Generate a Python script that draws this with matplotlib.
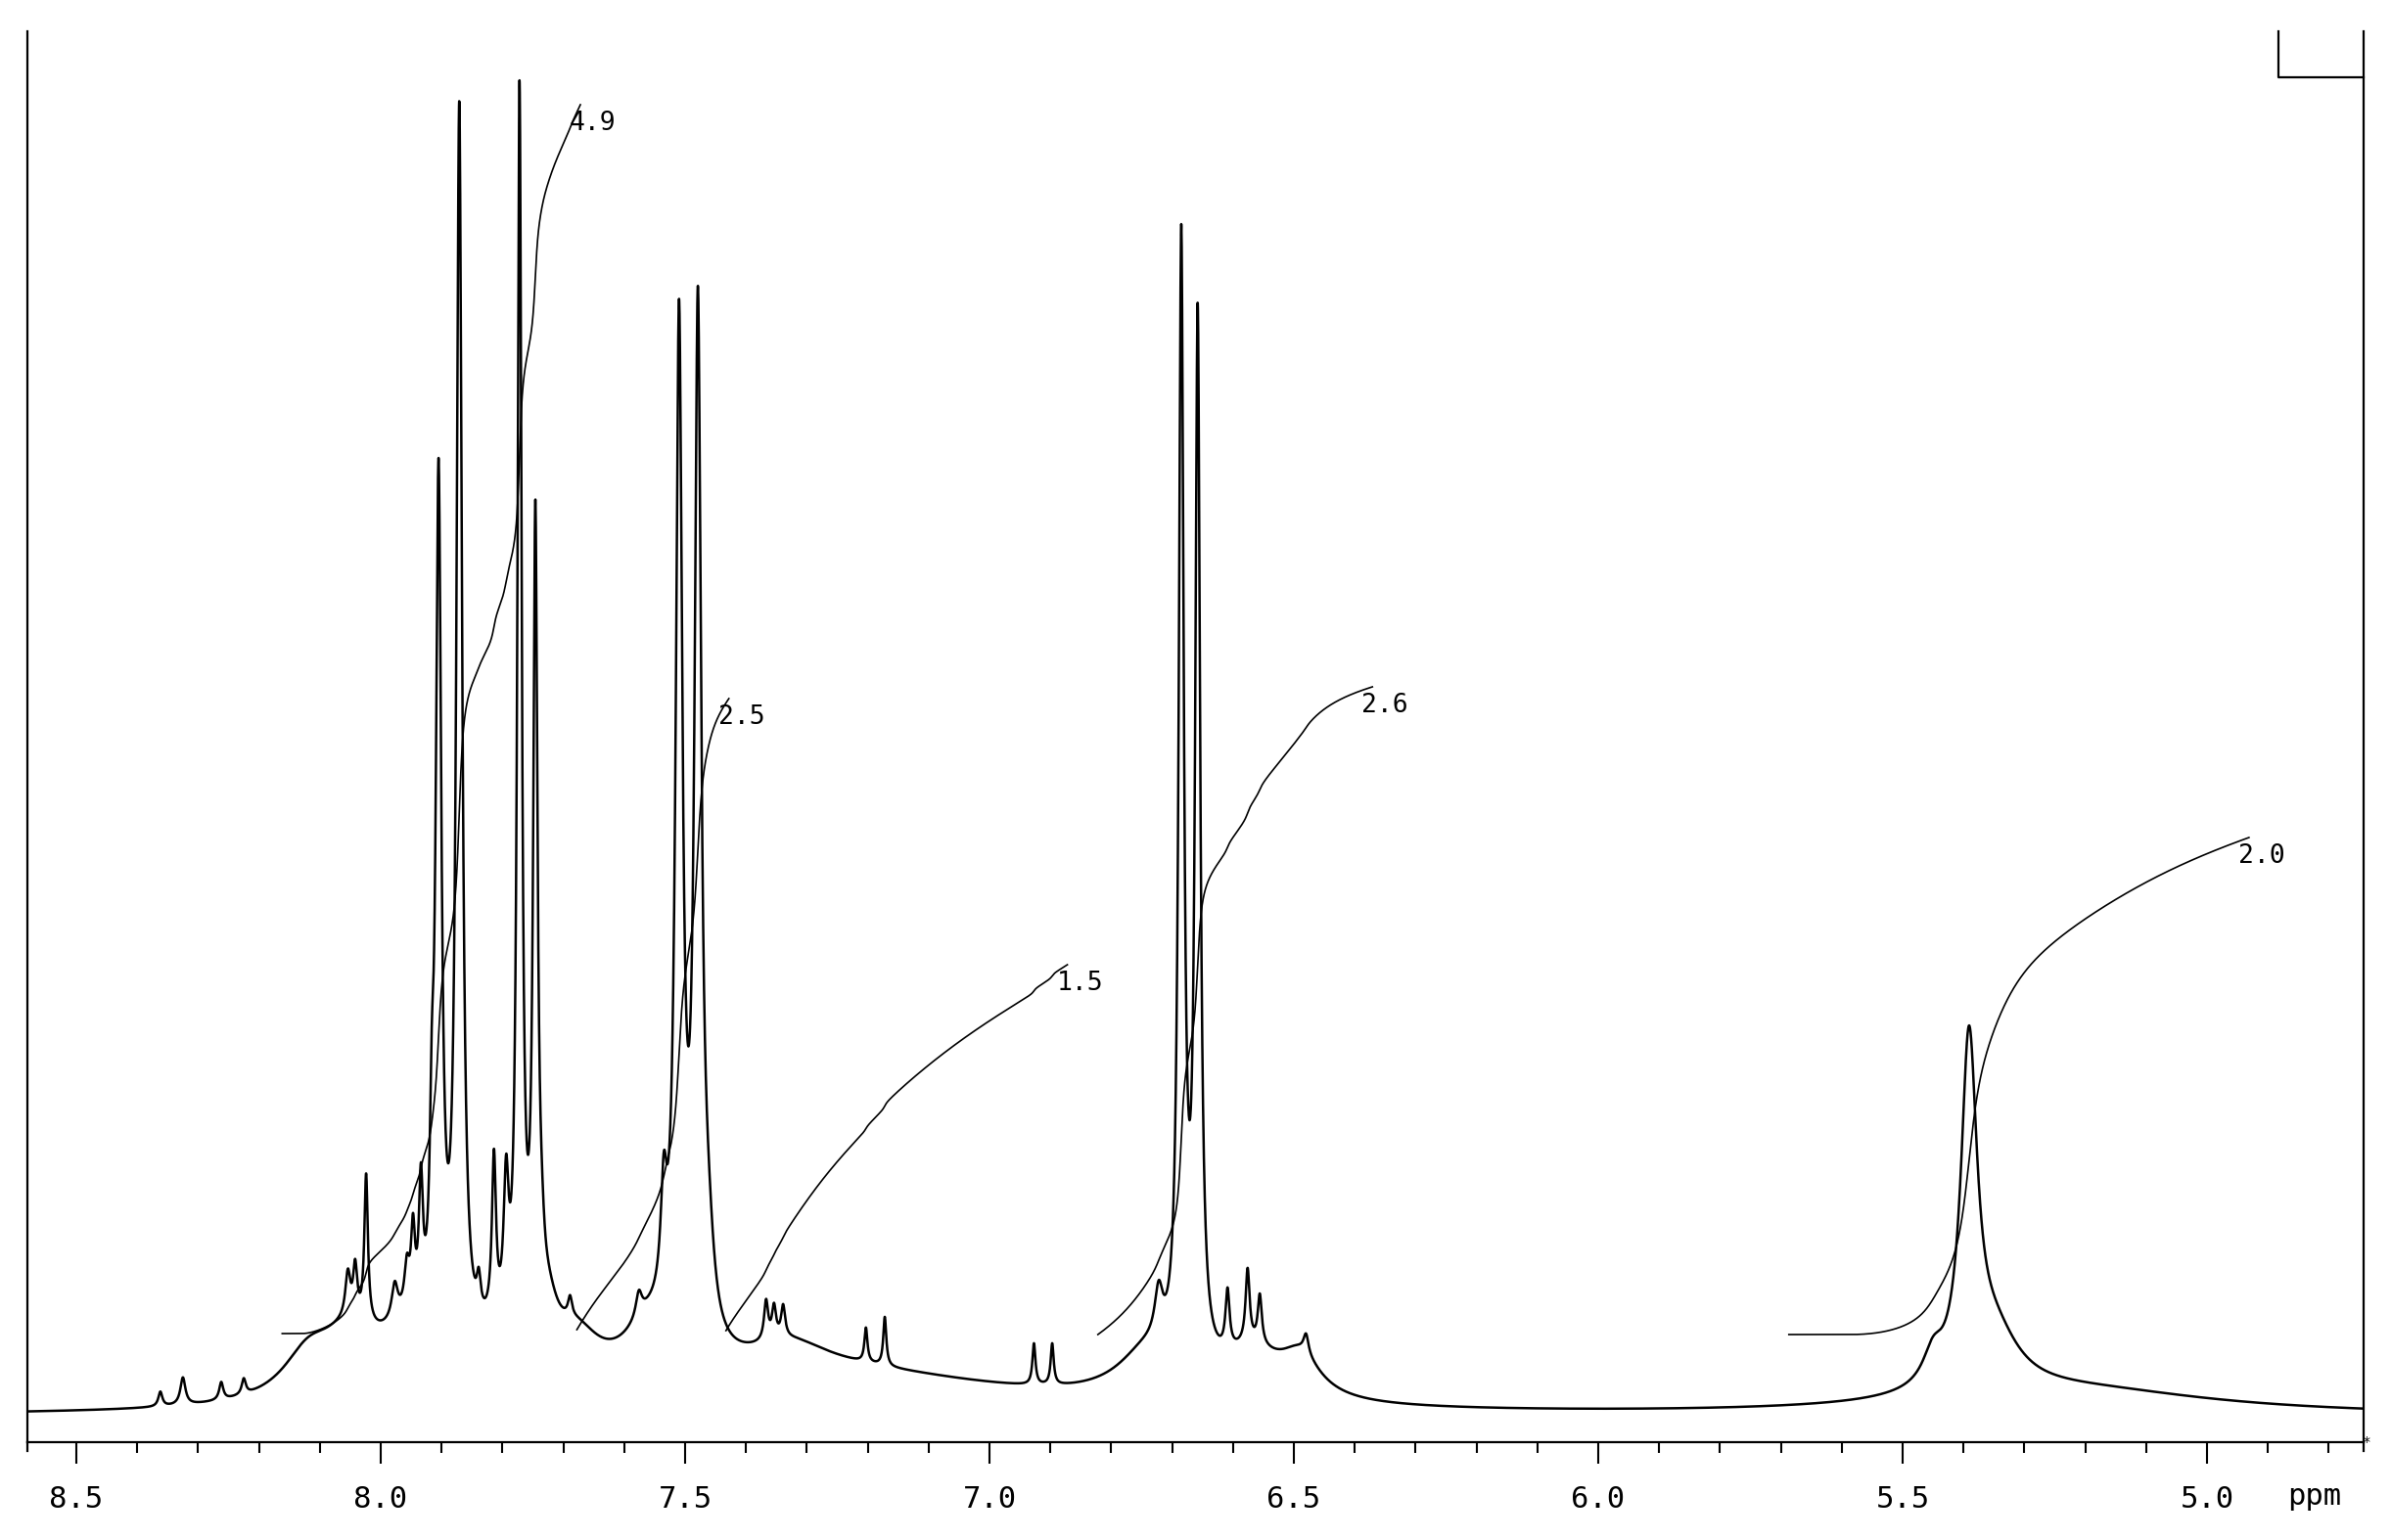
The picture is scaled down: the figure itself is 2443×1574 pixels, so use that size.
import numpy as np
import matplotlib.pyplot as plt

# 1H NMR trace: line position (ppm), height, half width (ppm)
peak_ppm = [7.905, 7.871, 7.772, 7.746, 7.510, 7.479, 6.685, 6.658, 5.391,
            8.054, 8.042, 8.024, 7.977, 7.957, 7.947, 7.934, 7.916,
            7.839, 7.814, 7.794, 7.736, 7.689, 7.725,
            7.576, 7.535, 7.462,
            8.362, 8.325, 8.262, 8.225, 7.367, 7.354, 7.339, 7.203, 7.172, 6.927, 6.897,
            6.722, 6.609, 6.576, 6.556, 6.480, 6.490,
            5.450, 5.350,
            7.25, 8.12, 8.05, 7.96, 7.82, 7.68, 7.56, 7.33, 6.74, 6.57, 5.22]
peak_height = [870, 1265, 1272, 815, 1023, 1031, 1133, 1056, 343,
               45, 50, 150, 35, 45, 80, 130, 140,
               35, 165, 140, 40, 20, 45,
               25, 110, 70,
               15, 28, 18, 16, 40, 32, 32, 35, 50, 42, 42,
               50, 60, 75, 50, 20, 40,
               30, 55,
               42, 40, 60, 50, 35, 50, 50, 30, 45, 45, 26]
peak_width = [0.0055, 0.0055, 0.0042, 0.0042, 0.0065, 0.0065, 0.0049, 0.0049, 0.016,
              0.005, 0.004, 0.0035, 0.006, 0.005, 0.004, 0.004, 0.004,
              0.004, 0.004, 0.005, 0.006, 0.004, 0.02,
              0.006, 0.006, 0.012,
              0.004, 0.005, 0.004, 0.004, 0.004, 0.004, 0.004, 0.003, 0.003, 0.003, 0.003,
              0.008, 0.004, 0.004, 0.004, 0.005, 0.04,
              0.02, 0.05,
              0.35, 0.05, 0.06, 0.05, 0.04, 0.05, 0.05, 0.08, 0.06, 0.06, 0.28]

# integral regions: from / to (ppm), trace level at both ends,
# baseline level removed by the integrator at the start of each region, printed value
int_from = [8.162, 7.678, 7.433, 6.822, 5.687]
int_to = [7.672, 7.428, 6.872, 6.371, 4.931]
int_low = [85, 89, 88, 84, 84]
int_high = [1341, 734, 462, 746, 592]
int_base = [80, 0, 0, 0, 20]
int_text = ['4.9', '2.5', '1.5', '2.6', '2.0']

major_ticks = [8.5, 8.0, 7.5, 7.0, 6.5, 6.0, 5.5, 5.0]
tick_text = ['8.5', '8.0', '7.5', '7.0', '6.5', '6.0', '5.5', '5.0']
minor_ticks = [8.4, 8.3, 8.2, 8.1, 7.9, 7.8, 7.7, 7.6, 7.4, 7.3, 7.2, 7.1,
               6.9, 6.8, 6.7, 6.6, 6.4, 6.3, 6.2, 6.1, 5.9, 5.8, 5.7, 5.6,
               5.4, 5.3, 5.2, 5.1, 4.9, 4.8]

x_left, x_right = 8.5804, 4.7428
ppm = np.linspace(x_left, x_right, 16000)
spec = np.zeros_like(ppm)
for p, h, w in zip(peak_ppm, peak_height, peak_width):
    spec += h / (1.0 + ((ppm - p) / w) ** 2)

mono = 'DejaVu Sans Mono'
fig = plt.figure(figsize=(24.43, 15.74), dpi=100)
ax = fig.add_axes([0.01146, 0.06353, 0.97708, 0.91614])

ax.plot(ppm, spec, color='black', lw=1.8)

# integral traces, baseline tilt falls to zero at the end of each region
for a, b, lo, hi, bs, t in zip(int_from, int_to, int_low, int_high, int_base, int_text):
    m = (ppm <= a) & (ppm >= b)
    tilt = bs * (ppm[m] - b) / (a - b)
    c = np.cumsum(np.clip(spec[m] - tilt, 0, None))
    c = (c - c[0]) / (c[-1] - c[0])
    ax.plot(ppm[m], lo + (hi - lo) * c, color='black', lw=1.2)
    ax.annotate(t, xy=(b, hi), xytext=(-8, -14), textcoords='offset points',
                ha='left', va='center', fontsize=19, family=mono)

ax.set_xlim(x_left, x_right)
ax.set_ylim(-26, 1416)
ax.set_yticks([])
ax.set_xticks(major_ticks)
ax.set_xticklabels(tick_text, family=mono, fontsize=22)
ax.set_xticks(minor_ticks, minor=True)
ax.tick_params(which='major', direction='out', length=16, width=1.5, pad=16)
ax.tick_params(which='minor', direction='out', length=8, width=1.5)

ax.spines['top'].set_visible(False)
for s in ['left', 'right', 'bottom']:
    ax.spines[s].set_linewidth(1.6)
# side lines run a little past the base line
for xe in [0.0, 1.0]:
    ax.plot([xe, xe], [0.0, -0.006], color='black', lw=1.6,
            transform=ax.transAxes, clip_on=False)

ax.text(4.823, -0.0388, 'ppm', transform=ax.get_xaxis_transform(),
        ha='center', va='center', fontsize=22, family=mono)

# small open box in the upper right corner
ax.plot([0.9636, 0.9636, 1.0], [1.0, 0.9674, 0.9674], color='black', lw=1.6,
        transform=ax.transAxes, clip_on=False)
ax.text(1.0, 0.0, '*', transform=ax.transAxes, ha='left', va='center', fontsize=10)

fig.savefig('out.png', dpi=100)
